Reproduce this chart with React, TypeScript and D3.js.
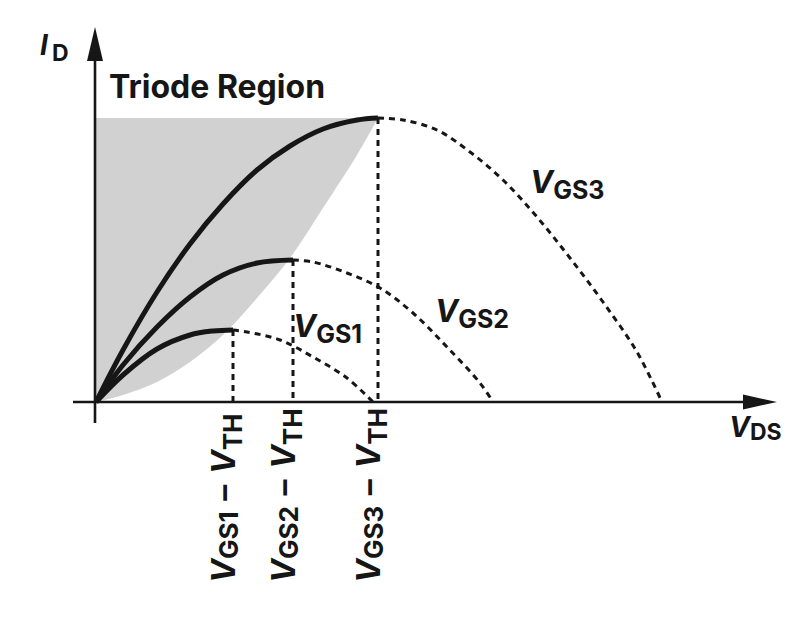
import React from "react";
import * as d3 from "d3";

const W = 804;
const H = 630;

// Overdrive voltages (VGS - VTH) for the three curves, in arbitrary units
const seriesNames = ["GS1", "GS2", "GS3"];
const vov = [1.37, 1.97, 2.82];

// Triode (solid) segments: [VDS, ID]
const solid1 = [[0, 0], [0.27, 0.27], [0.61, 0.53], [0.94, 0.67], [1.17, 0.71], [1.37, 0.72]];
const solid2 = [[0, 0], [0.27, 0.37], [0.61, 0.75], [0.94, 1.05], [1.27, 1.27], [1.61, 1.39], [1.97, 1.42]];
const solid3 = [[0, 0], [0.27, 0.52], [0.61, 1.1], [0.94, 1.58], [1.27, 1.98], [1.61, 2.32], [1.94, 2.56], [2.27, 2.73], [2.61, 2.82], [2.82, 2.84]];

// Continuation of the parabolas (dashed)
const dashed1 = [[1.37, 0.72], [1.51, 0.7], [1.84, 0.62], [2.17, 0.45], [2.51, 0.24], [2.77, 0]];
const dashed2 = [[1.97, 1.42], [2.17, 1.4], [2.51, 1.29], [2.84, 1.14], [3.17, 0.89], [3.51, 0.55], [3.84, 0.19], [3.97, 0]];
const dashed3 = [[2.82, 2.84], [3.07, 2.82], [3.41, 2.72], [3.74, 2.5], [4.07, 2.22], [4.41, 1.85], [4.74, 1.44], [5.07, 1.0], [5.41, 0.5], [5.66, 0]];

// Edge of the shaded triode region
const boundary = [[0, 0], [0.27, 0.07], [0.61, 0.2], [0.94, 0.4], [1.27, 0.67], [1.61, 1.04], [1.94, 1.44], [2.27, 1.94], [2.61, 2.47], [2.82, 2.84]];
const regionTop = 2.84;

const solids = [solid1, solid2, solid3];
const dasheds = [dashed1, dashed2, dashed3];

const FONT = "Inter, 'Open Sans', 'DejaVu Sans', sans-serif";
const INK = "#161616";

export default function App() {
  const x = d3.scaleLinear().domain([0, 6.8]).range([96, 776]);
  const y = d3.scaleLinear().domain([0, 3.75]).range([402, 27]);

  const line = d3
    .line<number[]>()
    .x((d) => x(d[0]))
    .y((d) => y(d[1]))
    .curve(d3.curveCatmullRom.alpha(0.5));

  const regionPath = (line(boundary) as string) + `L${x(0)},${y(regionTop)}Z`;

  const x0 = x(0);
  const y0 = y(0);

  const curveLabels = [
    { x: 293, y: 337 },
    { x: 435, y: 322 },
    { x: 530, y: 193 },
  ];

  return (
    <svg
      width={W}
      height={H}
      viewBox={`0 0 ${W} ${H}`}
      style={{ position: "absolute", left: 0, top: 0, display: "block", background: "#fff" }}
      fontFamily={FONT}
      fontWeight={700}
    >
      <rect x={0} y={0} width={W} height={H} fill="#fff" />
      <path d={regionPath} fill="#d1d1d1" stroke="none" />

      {/* axes */}
      <line x1={73} y1={y0} x2={748} y2={y0} stroke={INK} strokeWidth={2.6} />
      <path d={`M777,${y0} L743,${y0 - 7.5} L743,${y0 + 7.5} Z`} fill={INK} />
      <line x1={x0 - 1} y1={423} x2={x0 - 1} y2={56} stroke={INK} strokeWidth={2.6} />
      <path d={`M${x0 - 1},27 L${x0 - 9},61 L${x0 + 7},61 Z`} fill={INK} />

      {/* vertical dashed lines at VDS = VGS - VTH */}
      {vov.map((v, i) => (
        <line
          key={"v" + i}
          x1={x(v)}
          x2={x(v)}
          y1={y(solids[i][solids[i].length - 1][1])}
          y2={y0}
          stroke={INK}
          strokeWidth={3}
          strokeDasharray="6 5"
        />
      ))}

      {dasheds.map((d, i) => (
        <path key={"d" + i} d={line(d) as string} fill="none" stroke={INK} strokeWidth={3} strokeDasharray="6 5" />
      ))}

      {solids.map((d, i) => (
        <path key={"s" + i} d={line(d) as string} fill="none" stroke={INK} strokeWidth={5} strokeLinecap="butt" strokeLinejoin="round" />
      ))}

      {/* axis labels */}
      <text x={40} y={55} fill={INK} fontSize={28}>
        <tspan fontStyle="italic">I</tspan>
        <tspan fontSize={23} dy={6} dx={4}>D</tspan>
      </text>
      <text x={729} y={437} fill={INK} fontSize={28}>
        <tspan fontStyle="italic">V</tspan>
        <tspan fontSize={23} dy={3}>DS</tspan>
      </text>

      <text x={109} y={98} fill={INK} fontSize={32}>Triode Region</text>

      {curveLabels.map((p, i) => (
        <text key={"l" + i} x={p.x} y={p.y} fill={INK} fontSize={31}>
          <tspan fontStyle="italic">V</tspan>
          <tspan fontSize={25} dy={6}>{seriesNames[i]}</tspan>
        </text>
      ))}

      {/* rotated overdrive labels */}
      {vov.map((v, i) => (
        <g key={"r" + i} transform={`translate(${x(v) + 2},583) rotate(-90)`}>
          <text x={0} y={0} fill={INK} fontSize={32}>
            <tspan fontStyle="italic">V</tspan>
            <tspan fontSize={26} dy={3}>{seriesNames[i]}</tspan>
            <tspan dy={-3} dx={3}>{" \u2013 "}</tspan>
            <tspan fontStyle="italic" dx={3}>V</tspan>
            <tspan fontSize={26} dy={7}>TH</tspan>
          </text>
        </g>
      ))}
    </svg>
  );
}
